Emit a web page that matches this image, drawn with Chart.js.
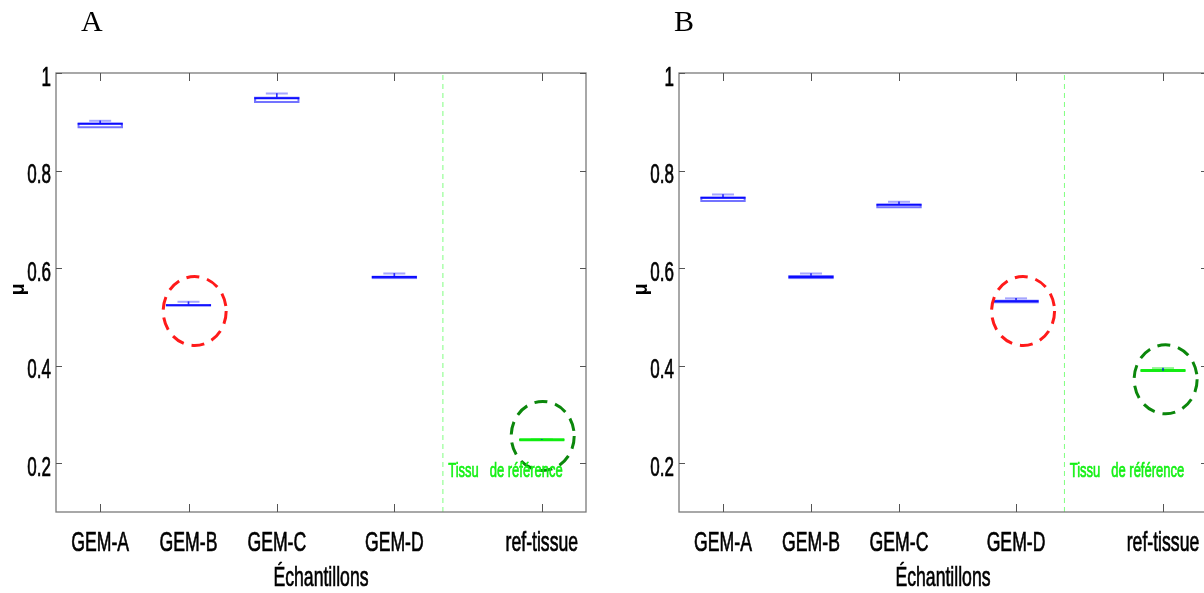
<!DOCTYPE html>
<html><head><meta charset="utf-8">
<script src="https://cdn.jsdelivr.net/npm/chart.js@4.4.0/dist/chart.umd.min.js"></script>
<style>
html,body{margin:0;padding:0;background:#fff;overflow:hidden;width:1204px;height:593px;position:relative;}
canvas{position:absolute;top:0;}
#cA{left:0;}
#cB{left:602px;}
</style></head><body>
<canvas id="cA" width="602" height="593"></canvas>
<canvas id="cB" width="620" height="593"></canvas>
<script>
// ---------- data ----------
const categories = ['GEM-A', 'GEM-B', 'GEM-C', 'GEM-D', 'ref-tissue'];
const positions = [1, 2, 3, 4.33, 6];
const yTicks = [0.2, 0.4, 0.6, 0.8, 1];
const yTickLabels = ['0.2', '0.4', '0.6', '0.8', '1'];
const separatorX = 4.88;
const xTitle = 'Échantillons';
const yTitle = 'μ';
const noteText = 'Tissu   de référence';

// Panel A
const aQ1     = [0.887, 0.522, 0.939, 0.578, 0.247];
const aMedian = [0.896, 0.524, 0.948, 0.582, 0.248];
const aQ3     = [0.898, 0.526, 0.951, 0.584, 0.249];
const aHigh   = [0.902, 0.531, 0.958, 0.589, 0.249];

// Panel B
const bQ1     = [0.736, 0.578, 0.723, 0.528, 0.389];
const bMedian = [0.744, 0.582, 0.730, 0.532, 0.390];
const bQ3     = [0.746, 0.585, 0.732, 0.535, 0.390];
const bHigh   = [0.751, 0.589, 0.736, 0.538, 0.395];

// highlighted samples (dashed ellipses), in data coordinates
const aMarks = [{x: 2.07, y: 0.512, color: '#ff1a1a'}, {x: 6.01, y: 0.256, color: '#0b870b'}];
const bMarks = [{x: 4.41, y: 0.512, color: '#ff1a1a'}, {x: 6.03, y: 0.372, color: '#0b870b'}];

// ---------- styling ----------
const BLUE_BOX = 'rgba(0,0,255,0.55)';
const BLUE_MED = 'rgba(0,0,255,0.9)';
const BLUE_CAP = 'rgba(0,0,255,0.35)';
const GREEN = 'rgba(10,235,10,0.95)';
const GREEN_CAP = 'rgba(10,235,10,0.45)';
const isRef = categories.map(c => c === 'ref-tissue');
const boxColors = isRef.map(r => r ? GREEN : BLUE_BOX);
const medColors = isRef.map(r => r ? GREEN : BLUE_MED);
const medWidths = isRef.map(r => r ? 3 : 2);
const capColors = isRef.map(r => r ? GREEN_CAP : BLUE_CAP);
const FONT = '"Liberation Sans", Arial, Helvetica, sans-serif';
const SQUEEZE = 0.63;

function squeezedText(ctx, txt, x, y, size, align, color, sx) {
  ctx.save();
  ctx.font = size + 'px ' + FONT;
  ctx.fillStyle = color;
  ctx.strokeStyle = color;
  ctx.lineWidth = 0.7;
  ctx.textAlign = align;
  ctx.textBaseline = 'alphabetic';
  ctx.translate(x, y);
  ctx.scale(sx, 1);
  ctx.fillText(txt, 0, 0);
  ctx.strokeText(txt, 0, 0);
  ctx.restore();
}

function decorPlugin(letter, letterX, marks) {
  return {
    id: 'decor',
    afterDatasetsDraw(chart) {
      const ctx = chart.ctx, xs = chart.scales.x, ys = chart.scales.y;
      marks.forEach(m => {
        ctx.save();
        ctx.strokeStyle = m.color;
        ctx.lineWidth = 3;
        ctx.setLineDash([13, 8]);
        ctx.beginPath();
        ctx.ellipse(xs.getPixelForValue(m.x), ys.getPixelForValue(m.y), 31.5, 34.5, 0, 0, Math.PI * 2);
        ctx.stroke();
        ctx.restore();
      });
      squeezedText(ctx, noteText, xs.getPixelForValue(separatorX + 0.06), ys.getPixelForValue(0.172), 21, 'left', '#14f014', 0.62);
    },
    afterDraw(chart) {
      const ctx = chart.ctx, ca = chart.chartArea, xs = chart.scales.x, ys = chart.scales.y;
      ctx.save();
      ctx.strokeStyle = '#7a7a7a';
      ctx.lineWidth = 1.3;
      ctx.strokeRect(ca.left, ca.top, ca.right - ca.left, ca.bottom - ca.top);
      ctx.strokeStyle = '#555';
      ctx.lineWidth = 1;
      ctx.beginPath();
      positions.forEach(p => {
        const px = Math.round(xs.getPixelForValue(p)) + 0.5;
        ctx.moveTo(px, ca.bottom); ctx.lineTo(px, ca.bottom - 8);
        ctx.moveTo(px, ca.top); ctx.lineTo(px, ca.top + 8);
      });
      yTicks.forEach(v => {
        const py = Math.round(ys.getPixelForValue(v)) + 0.5;
        ctx.moveTo(ca.left, py); ctx.lineTo(ca.left + 6, py);
        ctx.moveTo(ca.right, py); ctx.lineTo(ca.right - 6, py);
      });
      ctx.stroke();
      ctx.restore();
      positions.forEach((p, i) => squeezedText(ctx, categories[i], xs.getPixelForValue(p), ca.bottom + 39, 28, 'center', '#000', SQUEEZE));
      yTicks.forEach((v, i) => squeezedText(ctx, yTickLabels[i], ca.left - 5, ys.getPixelForValue(v) + 12.5, 27, 'right', '#000', SQUEEZE));
      squeezedText(ctx, xTitle, (ca.left + ca.right) / 2, ca.bottom + 74, 28, 'center', '#000', SQUEEZE);
      ctx.save();
      ctx.translate(ca.left - 38, (ca.top + ca.bottom) / 2 - 3);
      ctx.rotate(-Math.PI / 2);
      ctx.font = 'bold 20px ' + FONT;
      ctx.fillStyle = '#000';
      ctx.textAlign = 'center';
      ctx.textBaseline = 'middle';
      ctx.fillText(yTitle, 0, 0);
      ctx.restore();
      ctx.save();
      ctx.font = '30px "Liberation Serif", "Times New Roman", serif';
      ctx.fillStyle = '#000';
      ctx.textBaseline = 'alphabetic';
      ctx.fillText(letter, letterX, 31);
      ctx.restore();
    }
  };
}

function makeChart(id, q1, med, q3, hi, marks, letter, letterX, leftW, plotRight) {
  const pts = arr => positions.map((p, i) => ({x: p, y: arr[i]}));
  new Chart(document.getElementById(id), {
    type: 'bar',
    data: {
      datasets: [
        { type: 'line', data: [{x: separatorX, y: 0.1}, {x: separatorX, y: 1}],
          borderColor: '#80ff80', borderWidth: 1, borderDash: [5, 4], pointRadius: 0 },
        { type: 'bar', data: positions.map((p, i) => ({x: p, y: [q3[i], hi[i]]})),
          backgroundColor: 'rgba(0,0,255,0.8)', borderWidth: 0,
          barThickness: 1, grouped: false },
        { type: 'bar', data: positions.map((p, i) => ({x: p, y: [q1[i], q3[i]]})),
          backgroundColor: 'rgba(255,255,255,0)', borderColor: boxColors, borderWidth: 1.5,
          barThickness: 45, grouped: false, borderSkipped: false },
        { type: 'scatter', data: pts(med), pointStyle: 'line', pointRadius: 22.5,
          pointBorderColor: medColors, pointBorderWidth: medWidths, pointHoverRadius: 22.5 },
        { type: 'scatter', data: pts(hi), pointStyle: 'line', pointRadius: 11,
          pointBorderColor: capColors, pointBorderWidth: 2, pointHoverRadius: 11 }
      ]
    },
    options: {
      responsive: false,
      animation: false,
      devicePixelRatio: 1,
      layout: { padding: { top: 73, right: 0, left: 0, bottom: 0 } },
      plugins: { legend: { display: false }, tooltip: { enabled: false } },
      scales: {
        x: { type: 'linear', min: 0.5, max: 6.5, offset: false,
             grid: { display: false, offset: false }, border: { display: false },
             ticks: { display: false },
             afterBuildTicks: s => { s.ticks = positions.map(v => ({value: v})); },
             afterFit: s => { s.height = 81; s.paddingLeft = 0; s.paddingRight = 0; } },
        y: { type: 'linear', min: 0.1, max: 1, grid: { display: false }, border: { display: false },
             ticks: { display: false },
             afterBuildTicks: s => { s.ticks = yTicks.map(v => ({value: v})); },
             afterFit: s => { s.width = leftW; s.paddingTop = 0; s.paddingBottom = 0; } }
      }
    },
    plugins: [decorPlugin(letter, letterX, marks), {
      id: 'fixArea',
      afterLayout(chart) {
        const ca = chart.chartArea;
        const xs = chart.scales.x;
        ca.right = plotRight;
        ca.width = ca.right - ca.left;
        xs.right = plotRight;
        xs.width = plotRight - xs.left;
        xs.configure();
        chart.scales.y.configure();
      }
    }]
  });
}

makeChart('cA', aQ1, aMedian, aQ3, aHigh, aMarks, 'A', 81, 56, 586);
makeChart('cB', bQ1, bMedian, bQ3, bHigh, bMarks, 'B', 72, 77, 605);
</script>
</body></html>
